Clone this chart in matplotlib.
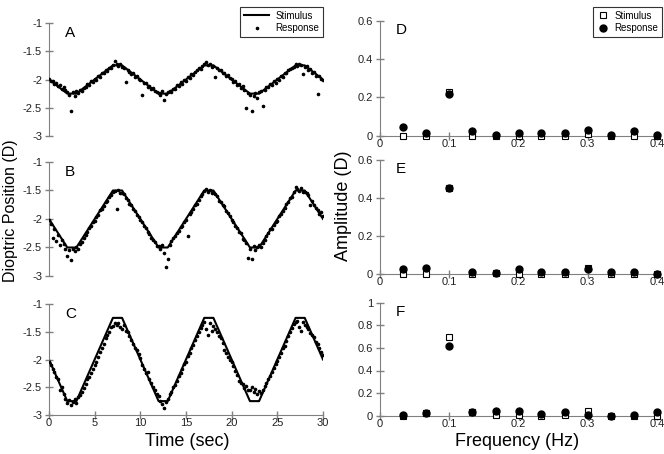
import numpy as np
import matplotlib
matplotlib.use('Agg')
import matplotlib.pyplot as plt

plt.rcParams['font.family'] = ['Liberation Sans', 'DejaVu Sans']

# ---- time-domain data (panels A-C) ----
# stimulus corner points (sec, dioptres)
stim_t = [0, 2, 3, 7, 8, 12, 13, 17, 18, 22, 23, 27, 28, 30]
stim_A = [-2.0, -2.25, -2.25, -1.75, -1.75, -2.25, -2.25, -1.75, -1.75, -2.25, -2.25, -1.75, -1.75, -2.0]
stim_B = [-2.0, -2.5, -2.5, -1.5, -1.5, -2.5, -2.5, -1.5, -1.5, -2.5, -2.5, -1.5, -1.5, -2.0]
stim_C = [-2.0, -2.75, -2.75, -1.25, -1.25, -2.75, -2.75, -1.25, -1.25, -2.75, -2.75, -1.25, -1.25, -2.0]

# response samples every 0.2 s, 0..30 s
resp_t = np.arange(151) * 0.2
resp_A = [-1.99, -2.03, -2.02, -2.08, -2.06, -2.12, -2.10, -2.16, -2.14, -2.19,
          -2.22, -2.27, -2.55, -2.23, -2.29, -2.21, -2.24, -2.19, -2.21, -2.15,
          -2.13, -2.08, -2.09, -2.03, -2.05, -1.99, -2.00, -1.94, -1.96, -1.89,
          -1.88, -1.83, -1.85, -1.79, -1.80, -1.74, -1.68, -1.72, -1.76, -1.73,
          -1.77, -1.79, -2.05, -1.84, -1.86, -1.90, -1.89, -1.95, -1.93, -1.99,
          -2.01, -2.28, -2.06, -2.07, -2.13, -2.11, -2.17, -2.15, -2.21, -2.22,
          -2.24, -2.27, -2.21, -2.36, -2.26, -2.23, -2.20, -2.22, -2.16, -2.17,
          -2.10, -2.11, -2.05, -2.08, -2.00, -2.02, -1.96, -1.97, -1.90, -1.92,
          -1.86, -1.84, -1.80, -1.82, -1.76, -1.73, -1.69, -1.74, -1.72, -1.78,
          -1.76, -1.95, -1.80, -1.84, -1.83, -1.89, -1.88, -1.94, -1.92, -1.98,
          -1.99, -2.04, -2.03, -2.09, -2.08, -2.15, -2.12, -2.19, -2.50, -2.24,
          -2.27, -2.55, -2.30, -2.24, -2.32, -2.22, -2.20, -2.47, -2.18, -2.14,
          -2.13, -2.08, -2.10, -2.03, -2.06, -1.99, -2.00, -1.94, -1.95, -1.88,
          -1.88, -1.84, -1.82, -1.80, -1.77, -1.73, -1.76, -1.72, -1.75, -1.90,
          -1.78, -1.76, -1.83, -1.82, -1.88, -1.86, -1.93, -2.25, -1.94, -1.99,
          -2.00]
resp_B = [-2.02, -2.08, -2.33, -2.17, -2.38, -2.28, -2.45, -2.36, -2.44, -2.52,
          -2.65, -2.55, -2.72, -2.52, -2.57, -2.49, -2.53, -2.44, -2.40, -2.33,
          -2.28, -2.22, -2.16, -2.13, -2.05, -2.03, -1.96, -1.93, -1.85, -1.83,
          -1.78, -1.71, -1.68, -1.62, -1.58, -1.52, -1.51, -1.82, -1.49, -1.55,
          -1.54, -1.56, -1.63, -1.66, -1.73, -1.75, -1.83, -1.86, -1.93, -1.96,
          -2.02, -2.06, -2.13, -2.16, -2.22, -2.27, -2.33, -2.37, -2.40, -2.47,
          -2.48, -2.52, -2.45, -2.60, -2.85, -2.70, -2.46, -2.38, -2.33, -2.29,
          -2.24, -2.21, -2.14, -2.12, -2.06, -2.01, -2.30, -1.91, -1.88, -1.82,
          -1.76, -1.73, -1.66, -1.60, -1.56, -1.51, -1.47, -1.52, -1.50, -1.54,
          -1.52, -1.57, -1.60, -1.68, -1.70, -1.76, -1.78, -1.86, -1.90, -1.94,
          -2.01, -2.06, -2.12, -2.15, -2.23, -2.25, -2.35, -2.36, -2.42, -2.68,
          -2.52, -2.70, -2.48, -2.55, -2.50, -2.46, -2.49, -2.42, -2.36, -2.30,
          -2.25, -2.18, -2.17, -2.10, -2.06, -2.03, -1.95, -1.92, -1.86, -1.81,
          -1.74, -1.70, -1.64, -1.61, -1.53, -1.44, -1.48, -1.51, -1.46, -1.52,
          -1.53, -1.55, -1.58, -1.75, -1.68, -1.76, -1.80, -1.84, -1.92, -1.88,
          -1.95]
resp_C = [-2.05, -2.10, -2.17, -2.22, -2.31, -2.35, -2.55, -2.50, -2.62, -2.72,
          -2.78, -2.73, -2.82, -2.76, -2.72, -2.78, -2.68, -2.64, -2.58, -2.52,
          -2.45, -2.36, -2.32, -2.24, -2.18, -2.10, -2.04, -1.95, -1.87, -1.80,
          -1.72, -1.62, -1.55, -1.50, -1.42, -1.40, -1.35, -1.38, -1.34, -1.42,
          -1.45, -1.38, -1.48, -1.50, -1.58, -1.64, -1.72, -1.80, -1.82, -1.90,
          -1.98, -2.10, -2.18, -2.25, -2.22, -2.35, -2.42, -2.50, -2.55, -2.62,
          -2.66, -2.74, -2.80, -2.88, -2.76, -2.72, -2.63, -2.58, -2.50, -2.46,
          -2.38, -2.30, -2.24, -2.17, -2.08, -2.04, -1.93, -1.88, -1.80, -1.74,
          -1.65, -1.58, -1.50, -1.44, -1.38, -1.32, -1.45, -1.55, -1.35, -1.48,
          -1.40, -1.45, -1.50, -1.58, -1.62, -1.70, -1.82, -1.88, -1.95, -2.00,
          -2.05, -2.12, -2.20, -2.28, -2.38, -2.42, -2.45, -2.52, -2.48, -2.55,
          -2.55, -2.50, -2.58, -2.53, -2.62, -2.56, -2.60, -2.55, -2.48, -2.42,
          -2.36, -2.30, -2.22, -2.16, -2.08, -2.02, -1.95, -1.88, -1.80, -1.75,
          -1.66, -1.58, -1.50, -1.44, -1.36, -1.32, -1.30, -1.42, -1.48, -1.33,
          -1.38, -1.42, -1.45, -1.52, -1.56, -1.60, -1.68, -1.72, -1.80, -1.86,
          -1.92]

# ---- amplitude spectra (panels D-F) ----
freq = [0.033, 0.067, 0.1, 0.133, 0.167, 0.2, 0.233, 0.267, 0.3, 0.333, 0.367, 0.4]
amp_stim_D = [0, 0, 0.23, 0, 0, 0, 0, 0, 0.01, 0, 0, 0]
amp_resp_D = [0.045, 0.012, 0.215, 0.022, 0.003, 0.015, 0.015, 0.015, 0.03, 0.005, 0.022, 0.002]
amp_stim_E = [0, 0, 0.455, 0, 0.005, 0, 0, 0, 0.03, 0, 0, 0]
amp_resp_E = [0.025, 0.03, 0.455, 0.012, 0.005, 0.025, 0.013, 0.013, 0.028, 0.01, 0.013, 0.0]
amp_stim_F = [0, 0.025, 0.70, 0.035, 0.01, 0.005, 0, 0.005, 0.045, 0, 0, 0]
amp_resp_F = [0.01, 0.025, 0.62, 0.035, 0.045, 0.04, 0.015, 0.035, 0.005, 0.0, 0.005, 0.03]

W, H = 664, 454
fig = plt.figure(figsize=(W / 100, H / 100), dpi=100)

def box(x0, x1, ytop, ybot):
    return [x0 / W, 1 - ybot / H, (x1 - x0) / W, (ybot - ytop) / H]

spine_col = '#808080'

def style(ax, show_x):
    for s in ['top', 'right']:
        ax.spines[s].set_visible(False)
    ax.spines['left'].set_color(spine_col)
    ax.spines['bottom'].set_color(spine_col)
    ax.tick_params(direction='inout', length=6, width=1, color=spine_col,
                   labelsize=8, labelcolor='#222222', pad=2)
    ax.tick_params(axis='x', pad=-0.5)
    if not show_x:
        ax.spines['bottom'].set_visible(False)
        ax.tick_params(axis='x', bottom=False, labelbottom=False)

# left column
left_axes = []
for (ytop, ybot), st, rs, letter, show_x in [((23, 136), stim_A, resp_A, 'A', False),
                                             ((162, 276), stim_B, resp_B, 'B', False),
                                             ((304, 415), stim_C, resp_C, 'C', True)]:
    ax = fig.add_axes(box(49, 323, ytop, ybot))
    ax.plot(stim_t, st, color='black', lw=1.5, label='Stimulus', zorder=2)
    ax.plot(resp_t, rs, ls='none', marker='o', ms=1.6, color='black',
            label='Response', zorder=3)
    ax.set_xlim(0, 30)
    ax.set_ylim(-3, -1)
    ax.set_yticks([-3, -2.5, -2, -1.5, -1])
    ax.set_yticklabels(['-3', '-2.5', '-2', '-1.5', '-1'])
    ax.set_xticks([0, 5, 10, 15, 20, 25, 30])
    style(ax, show_x)
    ax.text(0.058, 0.97, letter, transform=ax.transAxes, va='top', ha='left', fontsize=11)
    left_axes.append(ax)

# right column
right_axes = []
for (ytop, ybot), ymax, yt, sa, ra, letter in [((20.7, 135.7), 0.6, [0, 0.2, 0.4, 0.6], amp_stim_D, amp_resp_D, 'D'),
                                               ((160, 274), 0.6, [0, 0.2, 0.4, 0.6], amp_stim_E, amp_resp_E, 'E'),
                                               ((302.7, 415.7), 1.0, [0, 0.2, 0.4, 0.6, 0.8, 1], amp_stim_F, amp_resp_F, 'F')]:
    ax = fig.add_axes(box(380, 657, ytop, ybot))
    ax.plot(freq, sa, ls='none', marker='s', ms=5, mfc='white', mec='black', mew=0.8,
            label='Stimulus', clip_on=False, zorder=3)
    ax.plot(freq, ra, ls='none', marker='o', ms=5, color='black',
            label='Response', clip_on=False, zorder=4)
    ax.set_xlim(0, 0.4)
    ax.set_ylim(0, ymax)
    ax.set_yticks(yt)
    ax.set_yticklabels(['0' if v == 0 else ('1' if v == 1 else str(v)) for v in yt])
    ax.set_xticks([0, 0.1, 0.2, 0.3, 0.4])
    ax.set_xticklabels(['0', '0.1', '0.2', '0.3', '0.4'])
    style(ax, True)
    ax.text(0.058, 0.98, letter, transform=ax.transAxes, va='top', ha='left', fontsize=11)
    right_axes.append(ax)

leg_kw = dict(fontsize=7, frameon=True, fancybox=False, edgecolor='#333333',
              framealpha=1, borderpad=0.4, labelspacing=0.25, handletextpad=0.6,
              borderaxespad=0, numpoints=1)
h, l = left_axes[0].get_legend_handles_labels()
leg1 = fig.legend(h, l, loc='upper right', bbox_to_anchor=(323 / W, 1 - 7 / H),
                  handlelength=2.6, **leg_kw)
leg1.get_frame().set_linewidth(0.8)
h, l = right_axes[0].get_legend_handles_labels()
leg2 = fig.legend(h, l, loc='upper right', bbox_to_anchor=(662 / W, 1 - 7 / H),
                  handlelength=1.2, **leg_kw)
leg2.get_frame().set_linewidth(0.8)

fig.text(11 / W, 1 - 211 / H, 'Dioptric Position (D)', rotation=90,
         ha='center', va='center', fontsize=11.5)
fig.text(343 / W, 1 - 206 / H, 'Amplitude (D)', rotation=90,
         ha='center', va='center', fontsize=13)
fig.text(187 / W, 1 - 441 / H, 'Time (sec)', ha='center', va='center', fontsize=13)
fig.text(517 / W, 1 - 441 / H, 'Frequency (Hz)', ha='center', va='center', fontsize=13)

fig.savefig('out.png', dpi=100)
